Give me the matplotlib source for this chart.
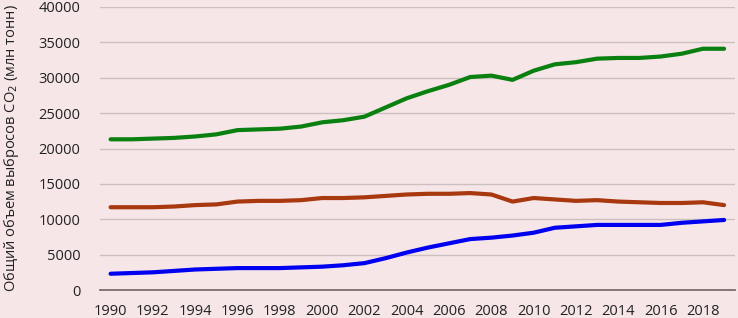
import matplotlib
matplotlib.use("Agg")
import matplotlib.pyplot as plt

years = list(range(1990, 2020))
green = [21300, 21300, 21400, 21500, 21700, 22000, 22600, 22700, 22800, 23100,
         23700, 24000, 24500, 25800, 27100, 28100, 29000, 30100, 30300, 29700,
         31000, 31900, 32200, 32700, 32800, 32800, 33000, 33400, 34100, 34100]
brown = [11700, 11700, 11700, 11800, 12000, 12100, 12500, 12600, 12600, 12700,
         13000, 13000, 13100, 13300, 13500, 13600, 13600, 13700, 13500, 12500,
         13000, 12800, 12600, 12700, 12500, 12400, 12300, 12300, 12400, 12000]
blue = [2300, 2400, 2500, 2700, 2900, 3000, 3100, 3100, 3100, 3200,
        3300, 3500, 3800, 4500, 5300, 6000, 6600, 7200, 7400, 7700,
        8100, 8800, 9000, 9200, 9200, 9200, 9200, 9500, 9700, 9900]
xticks = list(range(1990, 2019, 2))
yticks = list(range(0, 40001, 5000))

plt.rcParams['font.family'] = ['Open Sans', 'DejaVu Sans']
bg = '#f6e6e8'
fig = plt.figure(figsize=(7.38, 3.18), dpi=100, facecolor=bg)
ax = fig.add_axes([0.1355, 0.088, 0.86, 0.89], facecolor=bg)

ax.plot(years, green, color='#0a8010', lw=3.0, solid_capstyle='round')
ax.plot(years, brown, color='#a8380e', lw=3.0, solid_capstyle='round')
ax.plot(years, blue, color='#0000f0', lw=3.0, solid_capstyle='round')

ax.set_xlim(1989.5, 2019.5)
ax.set_ylim(0, 40000)
ax.set_yticks(yticks)
ax.set_yticks(yticks[1:], minor=False)
ax.set_yticks(yticks)
ax.set_xticks(xticks)
ax.set_xticklabels([str(x) for x in xticks], fontsize=10.5, color='#222222')
ax.set_yticklabels([str(y) for y in yticks], fontsize=10.5, color='#222222')
ax.tick_params(axis='both', length=0)
ax.tick_params(axis='y', pad=14)
ax.tick_params(axis='x', pad=10)
ax.grid(axis='y', color='#cbbfc0', lw=1.0)
ax.set_axisbelow(True)
for s in ['top', 'right', 'left']:
    ax.spines[s].set_visible(False)
ax.spines['bottom'].set_color('#7a6e6e')
ax.spines['bottom'].set_linewidth(1.3)

ax.set_ylabel('Общий объем выбросов CO$_2$ (млн тонн)', fontsize=10.5, color='#222222')
ax.yaxis.set_label_coords(-0.125, 0.5)

fig.savefig('out.png', dpi=100, facecolor=bg)
